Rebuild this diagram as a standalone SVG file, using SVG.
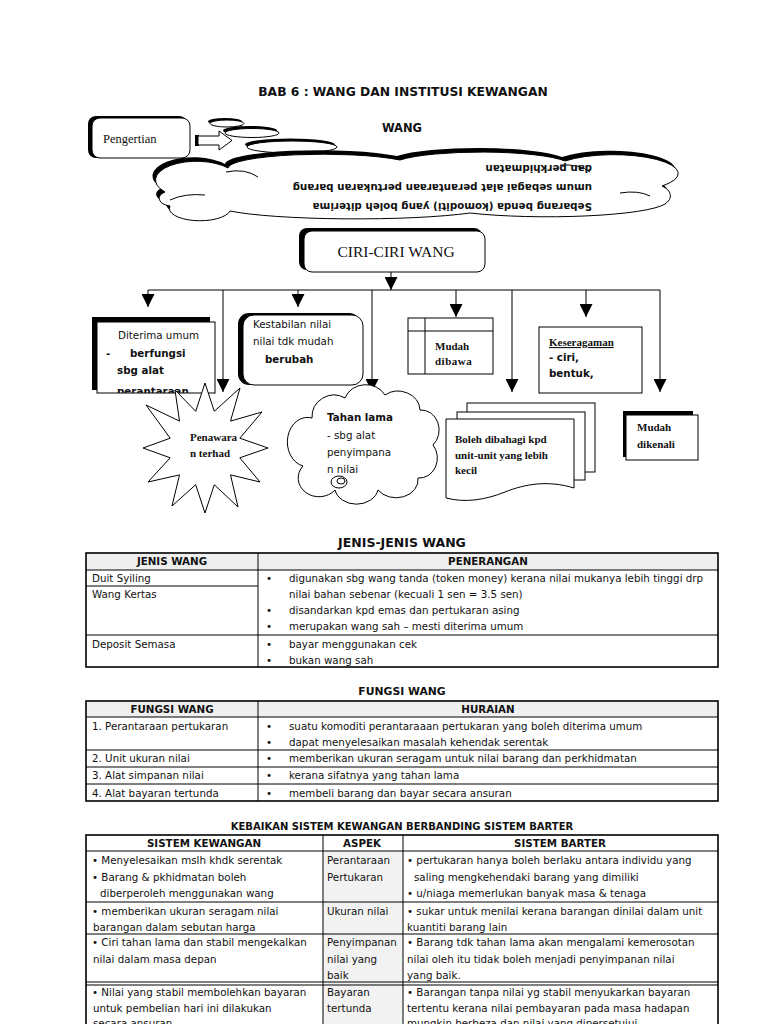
<svg xmlns="http://www.w3.org/2000/svg" width="768" height="1024" viewBox="0 0 768 1024">
<defs>
<style>
.t{font-family:"DejaVu Sans","Liberation Sans",sans-serif;font-size:10.3px;fill:#111}
.b{font-weight:bold}
.s{font-family:"Liberation Serif","Times New Roman",serif;fill:#111}
.h{font-family:"DejaVu Sans","Liberation Sans",sans-serif;font-weight:bold;fill:#111;text-anchor:middle}
.wb{fill:#fff;stroke:#000;stroke-width:1}
.sh{fill:#000}
.ln{stroke:#000;stroke-width:1;fill:none}
.tb{fill:none;stroke:#000;stroke-width:1.6}
.tl{stroke:#000;stroke-width:1}
</style>
<marker id="ah" markerWidth="13" markerHeight="13" refX="13" refY="6.5" orient="auto" markerUnits="userSpaceOnUse"><path d="M0,0 L13,6.5 L0,13 Z" fill="#000"/></marker>
<clipPath id="clipD"><rect x="97" y="322" width="118" height="71"/></clipPath>
</defs>
<rect width="768" height="1024" fill="#fff"/>

<text class="h" x="403" y="96" font-size="12.3">BAB 6 : WANG DAN INSTITUSI KEWANGAN</text>

<g id="pengertian">
<rect x="88" y="116" width="99" height="42" rx="8" class="sh"/>
<rect x="92" y="118" width="98" height="40" rx="8" class="wb"/>
<text class="s" x="103" y="143" font-size="12.5">Pengertian</text>
</g>

<g id="arrow-block">
<rect x="195" y="135" width="4" height="11" fill="#000"/>
<polygon points="198,136 219,136 219,131 232,140.5 219,150 219,145 198,145" class="wb"/>
</g>

<g id="bubbles">
<ellipse cx="225" cy="121.5" rx="17" ry="3.5" class="sh"/>
<ellipse cx="227" cy="123.5" rx="17" ry="3.5" class="wb"/>
<ellipse cx="250" cy="130.5" rx="27" ry="4.5" class="sh"/>
<ellipse cx="252" cy="133" rx="27" ry="4.5" class="wb"/>
<ellipse cx="290" cy="144.5" rx="45" ry="6" class="sh"/>
<ellipse cx="292" cy="147" rx="45" ry="6" class="wb"/>
</g>

<text class="h" x="402" y="132" font-size="11.5">WANG</text>

<g id="cloud-wang">
<path transform="translate(-3,-4)" class="sh" d="M165,192 A35,16 0 0 1 228,168 A95,14 0 0 1 400,160 A90,14 0 0 1 565,161 A55,16 0 0 1 662,186 A20,12 0 0 1 665,204 A120,16 0 0 1 470,213 A140,14 0 0 1 230,211 A30,12 0 0 1 170,206 A15,8 0 0 1 165,192 Z"/>
<path class="wb" d="M165,192 A35,16 0 0 1 228,168 A95,14 0 0 1 400,160 A90,14 0 0 1 565,161 A55,16 0 0 1 662,186 A20,12 0 0 1 665,204 A120,16 0 0 1 470,213 A140,14 0 0 1 230,211 A30,12 0 0 1 170,206 A15,8 0 0 1 165,192 Z"/>
<path class="ln" d="M170,200 Q185,193 205,195 M226,172 Q245,168 258,177 M560,165 Q580,164 590,172 M620,193 Q638,190 650,196"/>
<g transform="rotate(180,435,189)">
<text class="t b" x="278" y="175" font-size="10.8">Sebarang benda (komoditi) yang boleh diterima</text>
<text class="t b" x="278" y="194" font-size="10.8">umum sebagai alat perantaraan pertukaran barang</text>
<text class="t b" x="278" y="213" font-size="10.8">dan perkhidmatan</text>
</g>
</g>

<g id="ciri-ciri-wang">
<rect x="299" y="228" width="183" height="42" rx="8" class="sh"/>
<rect x="304" y="231" width="181" height="41" rx="8" class="wb"/>
<text class="s" x="396" y="257" font-size="15.5" text-anchor="middle">CIRI-CIRI WANG</text>
</g>

<g id="connectors">
<line x1="391" y1="272" x2="391" y2="290" class="ln" marker-end="url(#ah)"/>
<line x1="148" y1="290" x2="660" y2="290" class="ln"/>
<line x1="148" y1="290" x2="148" y2="307" class="ln" marker-end="url(#ah)"/>
<line x1="223" y1="290" x2="223" y2="392" class="ln" marker-end="url(#ah)"/>
<line x1="298" y1="290" x2="298" y2="307" class="ln" marker-end="url(#ah)"/>
<line x1="372" y1="290" x2="372" y2="392" class="ln" marker-end="url(#ah)"/>
<line x1="456" y1="290" x2="456" y2="317" class="ln" marker-end="url(#ah)"/>
<line x1="512" y1="290" x2="512" y2="392" class="ln" marker-end="url(#ah)"/>
<line x1="586" y1="290" x2="586" y2="317" class="ln" marker-end="url(#ah)"/>
<line x1="660" y1="290" x2="660" y2="392" class="ln" marker-end="url(#ah)"/>
</g>

<g id="diterima-umum">
<rect x="92" y="317" width="118" height="73" class="sh"/>
<rect x="97" y="322" width="118" height="71" class="wb"/>
<g clip-path="url(#clipD)">
<text class="t" x="118" y="339" font-size="9">Diterima umum</text>
<text class="t b" x="106" y="357" font-size="10.8">-</text>
<text class="t b" x="130" y="357" font-size="10.8">berfungsi</text>
<text class="t b" x="117" y="374" font-size="10.8">sbg alat</text>
<text class="t b" x="117" y="395" font-size="10.8">perantaraan</text>
</g>
</g>

<g id="kestabilan">
<rect x="238" y="313" width="122" height="72" rx="11" class="sh"/>
<rect x="243" y="315" width="120" height="70" rx="11" class="wb"/>
<text class="t" x="253" y="328" font-size="8.3">Kestabilan nilai</text>
<text class="t" x="253" y="345" font-size="8.8">nilai tdk mudah</text>
<text class="t b" x="265" y="363" font-size="10.4">berubah</text>
</g>

<g id="penawaran">
<polygon class="wb" points="205,383 214.3,411.3 240,388 230.5,421.1 262,412 239.8,438.2 268,448 239.8,457.8 260,482 230.5,474.9 238,507 214.3,484.7 205,513 195.7,484.7 172,506 179.5,474.9 148,482 170.2,457.8 143,448 170.2,438.2 146,405 179.5,421.1 175,390 195.7,411.3"/>
<text class="s b" x="190" y="441" font-size="11">Penawara</text>
<text class="s b" x="190" y="457" font-size="11">n terhad</text>
</g>

<g id="tahan-lama">
<path class="wb" d="M312,418 A22,22 0 0 1 345,398 A22,20 0 0 1 385,395 A22,20 0 0 1 420,410 A18,20 0 0 1 433,445 A18,20 0 0 1 418,478 A22,18 0 0 1 378,490 A22,18 0 0 1 335,490 A20,18 0 0 1 303,466 A18,22 0 0 1 312,418 Z"/>
<ellipse cx="339" cy="482" rx="8" ry="6" class="wb"/>
<ellipse cx="341" cy="481" rx="4" ry="3" class="wb"/>
<text class="t b" x="327" y="421" font-size="10.4">Tahan lama</text>
<text class="t" x="327" y="439" font-size="10.8">- sbg alat</text>
<text class="t" x="327" y="456" font-size="10.8">penyimpana</text>
<text class="t" x="327" y="473" font-size="10.8">n nilai</text>
</g>

<g id="mudah-dibawa">
<rect x="408" y="318" width="85" height="56" class="wb"/>
<line x1="425" y1="318" x2="425" y2="374" class="ln"/>
<line x1="408" y1="331" x2="493" y2="331" class="ln"/>
<text class="s b" x="435" y="350" font-size="11">Mudah</text>
<text class="s b" x="435" y="365" font-size="11" letter-spacing="0.5">dibawa</text>
</g>

<g id="boleh-dibahagi">
<rect x="467" y="403" width="128" height="69" class="wb"/>
<rect x="457" y="412" width="128" height="68" class="wb"/>
<path class="wb" d="M446,419 L574,419 L574,488 C548,480 525,484 505,492 C485,500 465,503 446,498 Z"/>
<text class="s b" x="455" y="443" font-size="11">Boleh dibahagi kpd</text>
<text class="s b" x="455" y="459" font-size="11">unit-unit yang lebih</text>
<text class="s b" x="455" y="474" font-size="11">kecil</text>
</g>

<g id="keseragaman">
<rect x="539" y="327" width="103" height="66" class="wb"/>
<text class="s b" x="549" y="346" font-size="11" text-decoration="underline">Keseragaman</text>
<text class="t b" x="549" y="361" font-size="9.8">- ciri,</text>
<text class="t b" x="549" y="377" font-size="9.8">bentuk,</text>
</g>

<g id="mudah-dikenali">
<rect x="623" y="411" width="70" height="46" class="sh"/>
<rect x="626" y="415" width="72" height="45" class="wb"/>
<text class="s b" x="637" y="431" font-size="11">Mudah</text>
<text class="s b" x="637" y="448" font-size="11">dikenali</text>
</g>

<g id="table-jenis">
<text class="h" x="402" y="547" font-size="12.5">JENIS-JENIS WANG</text>
<rect x="86" y="553" width="632" height="17" fill="#efefef"/>
<rect x="86" y="553" width="632" height="114" class="tb"/>
<line x1="86" y1="570" x2="718" y2="570" class="tl" stroke-width="1.5"/>
<line x1="258" y1="553" x2="258" y2="667" class="tl" stroke-width="1.5"/>
<line x1="86" y1="586" x2="258" y2="586" class="tl"/>
<line x1="86" y1="635" x2="718" y2="635" class="tl"/>
<text class="h" x="172" y="565" font-size="10.3">JENIS WANG</text>
<text class="h" x="488" y="565" font-size="10.3">PENERANGAN</text>
<text class="t" x="92" y="582">Duit Syiling</text>
<text class="t" x="92" y="598">Wang Kertas</text>
<text class="t" x="92" y="648">Deposit Semasa</text>
<text class="t" x="266" y="582">•</text>
<text class="t" x="289" y="582">digunakan sbg wang tanda (token money) kerana nilai mukanya lebih tinggi drp</text>
<text class="t" x="289" y="598">nilai bahan sebenar (kecuali 1 sen = 3.5 sen)</text>
<text class="t" x="266" y="614">•</text>
<text class="t" x="289" y="614">disandarkan kpd emas dan pertukaran asing</text>
<text class="t" x="266" y="630">•</text>
<text class="t" x="289" y="630">merupakan wang sah – mesti diterima umum</text>
<text class="t" x="266" y="648">•</text>
<text class="t" x="289" y="648">bayar menggunakan cek</text>
<text class="t" x="266" y="664">•</text>
<text class="t" x="289" y="664">bukan wang sah</text>
</g>

<g id="table-fungsi">
<text class="h" x="402" y="695" font-size="10.8">FUNGSI WANG</text>
<rect x="86" y="701" width="632" height="16" fill="#efefef"/>
<rect x="86" y="701" width="632" height="100" class="tb"/>
<line x1="86" y1="717" x2="718" y2="717" class="tl" stroke-width="1.5"/>
<line x1="258" y1="701" x2="258" y2="801" class="tl" stroke-width="1.5"/>
<line x1="86" y1="750" x2="718" y2="750" class="tl" stroke-width="1.5"/>
<line x1="86" y1="767" x2="718" y2="767" class="tl" stroke-width="1.5"/>
<line x1="86" y1="784" x2="718" y2="784" class="tl" stroke-width="1.5"/>
<text class="h" x="172" y="713" font-size="10.3">FUNGSI WANG</text>
<text class="h" x="488" y="713" font-size="10.3">HURAIAN</text>
<text class="t" x="92" y="730">1.  Perantaraan pertukaran</text>
<text class="t" x="92" y="762">2.  Unit ukuran nilai</text>
<text class="t" x="92" y="779">3.  Alat simpanan nilai</text>
<text class="t" x="92" y="797">4.  Alat bayaran tertunda</text>
<text class="t" x="266" y="730">•</text>
<text class="t" x="289" y="730">suatu komoditi perantaraaan pertukaran yang boleh diterima umum</text>
<text class="t" x="266" y="746">•</text>
<text class="t" x="289" y="746">dapat menyelesaikan masalah kehendak serentak</text>
<text class="t" x="266" y="762">•</text>
<text class="t" x="289" y="762">memberikan ukuran seragam untuk nilai barang dan perkhidmatan</text>
<text class="t" x="266" y="779">•</text>
<text class="t" x="289" y="779">kerana sifatnya yang tahan lama</text>
<text class="t" x="266" y="797">•</text>
<text class="t" x="289" y="797">membeli barang dan bayar secara ansuran</text>
</g>

<g id="table-kebaikan">
<text class="h" x="402" y="830" font-size="10">KEBAIKAN SISTEM KEWANGAN BERBANDING SISTEM BARTER</text>
<rect x="323" y="851" width="80" height="180" fill="#f2f2f2"/>
<rect x="86" y="835" width="632" height="200" class="tb"/>
<line x1="86" y1="851" x2="718" y2="851" class="tl" stroke-width="1.5"/>
<line x1="323" y1="835" x2="323" y2="1024" class="tl" stroke-width="1.5"/>
<line x1="403" y1="835" x2="403" y2="1024" class="tl" stroke-width="1.5"/>
<line x1="86" y1="902" x2="718" y2="902" class="tl"/>
<line x1="86" y1="934" x2="718" y2="934" class="tl" stroke-width="1.5"/>
<line x1="86" y1="982" x2="718" y2="982" class="tl"/>
<line x1="86" y1="985" x2="718" y2="985" class="tl"/>
<text class="h" x="204" y="847" font-size="10.3">SISTEM KEWANGAN</text>
<text class="h" x="362" y="847" font-size="10.3">ASPEK</text>
<text class="h" x="560" y="847" font-size="10.3">SISTEM BARTER</text>

<text class="t" x="92" y="864">• Menyelesaikan mslh khdk serentak</text>
<text class="t" x="92" y="881">•  Barang &amp; pkhidmatan boleh</text>
<text class="t" x="100" y="897">diberperoleh menggunakan wang</text>
<text class="t" x="327" y="864">Perantaraan</text>
<text class="t" x="327" y="881">Pertukaran</text>
<text class="t" x="407" y="864">• pertukaran hanya boleh berlaku antara individu yang</text>
<text class="t" x="414" y="881">saling mengkehendaki barang yang dimiliki</text>
<text class="t" x="407" y="897">• u/niaga memerlukan banyak masa &amp; tenaga</text>

<text class="t" x="92" y="915">• memberikan ukuran seragam nilai</text>
<text class="t" x="93" y="931">barangan dalam sebutan harga</text>
<text class="t" x="327" y="915">Ukuran nilai</text>
<text class="t" x="407" y="915">• sukar untuk menilai kerana barangan dinilai dalam unit</text>
<text class="t" x="407" y="931">kuantiti barang lain</text>

<text class="t" x="92" y="946">• Ciri tahan lama dan stabil mengekalkan</text>
<text class="t" x="93" y="963">nilai dalam masa depan</text>
<text class="t" x="327" y="946">Penyimpanan</text>
<text class="t" x="327" y="963">nilai yang</text>
<text class="t" x="327" y="979">baik</text>
<text class="t" x="407" y="946">• Barang tdk tahan lama akan mengalami kemerosotan</text>
<text class="t" x="407" y="963">nilai oleh itu tidak boleh menjadi penyimpanan nilai</text>
<text class="t" x="407" y="979">yang baik.</text>

<text class="t" x="92" y="996">• Nilai yang stabil membolehkan bayaran</text>
<text class="t" x="93" y="1012">untuk pembelian hari ini dilakukan</text>
<text class="t" x="93" y="1027">secara ansuran</text>
<text class="t" x="327" y="996">Bayaran</text>
<text class="t" x="327" y="1012">tertunda</text>
<text class="t" x="407" y="996">• Barangan tanpa nilai yg stabil menyukarkan bayaran</text>
<text class="t" x="407" y="1012">tertentu kerana nilai pembayaran pada masa hadapan</text>
<text class="t" x="407" y="1027">mungkin berbeza dan nilai yang dipersetujui</text>
</g>
</svg>
